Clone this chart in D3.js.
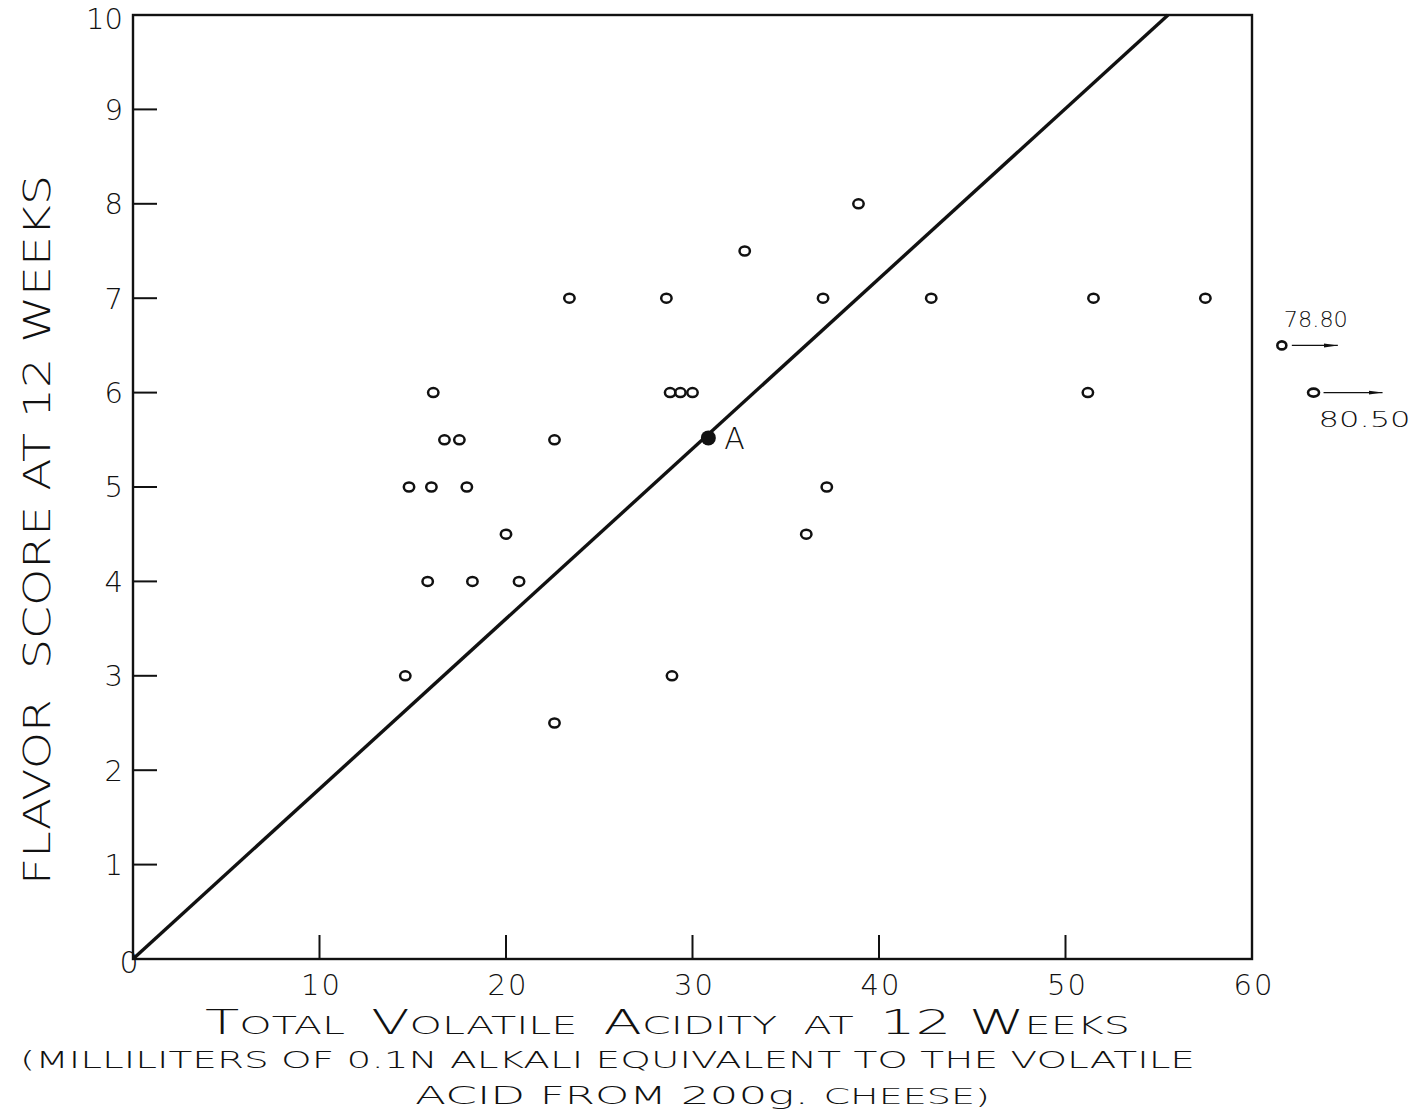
<!DOCTYPE html>
<html>
<head>
<meta charset="utf-8">
<script src="https://cdn.jsdelivr.net/npm/d3@7"></script>
<style>
  body { margin: 0; background: #fff; }
  svg { display: block; }
  text { font-family: "DejaVu Sans", "Liberation Sans", sans-serif; font-weight: 200; fill: #111; }
</style>
</head>
<body>
<svg id="chart" width="1415" height="1111"></svg>
<script>
// Data
const acidity = [14.8, 16.1, 16.7, 17.5, 16.0, 17.9, 15.8, 18.2, 14.6, 20.0, 20.7, 22.6, 22.6,
                 23.4, 28.6, 28.8, 29.35, 30.0, 28.9, 32.8, 37.0, 38.9, 37.2, 36.1, 42.8, 51.2, 51.5, 57.5];
const flavor = [5, 6, 5.5, 5.5, 5, 5, 4, 4, 3, 4.5, 4, 5.5, 2.5,
                7, 7, 6, 6, 6, 3, 7.5, 7, 8, 5, 4.5, 7, 6, 7, 7];

// points off the scale (real x value written next to them)
const offLabels = ["78.80", "80.50"];
const offPlotX = [61.6, 63.3];
const offFlavor = [6.5, 6];

// mean point "A"
const meanX = 30.85;
const meanY = 5.52;

// regression line end points
const lineX = [0, 55.5];
const lineY = [0, 10];

const xTicks = [10, 20, 30, 40, 50, 60];
const yTicks = [1, 2, 3, 4, 5, 6, 7, 8, 9, 10];

const svg = d3.select("#chart");

// scales
const x = d3.scaleLinear().domain([0, 60]).range([133, 1252]);
const y = d3.scaleLinear().domain([0, 10]).range([959, 15]);

// frame
svg.append("rect")
    .attr("x", x(0)).attr("y", y(10))
    .attr("width", x(60) - x(0)).attr("height", y(0) - y(10))
    .attr("fill", "none").attr("stroke", "#111").attr("stroke-width", 2.4);

// y ticks (inward)
svg.append("g").selectAll("line")
    .data(yTicks.slice(0, 9))
    .join("line")
    .attr("x1", x(0)).attr("x2", x(0) + 24)
    .attr("y1", d => y(d)).attr("y2", d => y(d))
    .attr("stroke", "#111").attr("stroke-width", 2);

svg.append("g").selectAll("text")
    .data(yTicks)
    .join("text")
    .attr("x", x(0) - 10)
    .attr("y", d => y(d) + (d === 10 ? 4 : 0))
    .attr("dy", "0.36em")
    .attr("text-anchor", "end")
    .attr("font-size", 29)
    .text(d => d);

// x ticks (upward)
svg.append("g").selectAll("line")
    .data(xTicks.slice(0, 5))
    .join("line")
    .attr("x1", d => x(d)).attr("x2", d => x(d))
    .attr("y1", y(0)).attr("y2", y(0) - 24)
    .attr("stroke", "#111").attr("stroke-width", 2);

svg.append("g").selectAll("text")
    .data(xTicks)
    .join("text")
    .attr("x", d => x(d) + 2)
    .attr("y", y(0) + 36)
    .attr("text-anchor", "middle")
    .attr("font-size", 29)
    .attr("letter-spacing", 2)
    .text(d => d);

// zero label at the corner
svg.append("text")
    .attr("x", x(0) - 4).attr("y", y(0) + 3)
    .attr("dy", "0.36em")
    .attr("text-anchor", "middle")
    .attr("font-size", 30)
    .text("0");

// regression line
svg.append("line")
    .attr("x1", x(lineX[0])).attr("y1", y(lineY[0]))
    .attr("x2", x(lineX[1])).attr("y2", y(lineY[1]))
    .attr("stroke", "#111").attr("stroke-width", 3.4);

// open circles
svg.append("g").selectAll("ellipse")
    .data(acidity.map((d, i) => [d, flavor[i]]))
    .join("ellipse")
    .attr("cx", d => x(d[0]))
    .attr("cy", d => y(d[1]))
    .attr("rx", 5.2).attr("ry", 4.5)
    .attr("fill", "none").attr("stroke", "#111").attr("stroke-width", 2.5);

// mean point A
svg.append("circle")
    .attr("cx", x(meanX)).attr("cy", y(meanY))
    .attr("r", 7.5).attr("fill", "#111");
svg.append("text")
    .attr("x", x(meanX) + 16).attr("y", y(meanY) + 11)
    .attr("font-size", 30)
    .text("A");

// off-scale points with arrows
const defs = svg.append("defs");
defs.append("marker")
    .attr("id", "arrow")
    .attr("viewBox", "0 0 14 6")
    .attr("refX", 14).attr("refY", 3)
    .attr("markerWidth", 14).attr("markerHeight", 6)
    .attr("markerUnits", "userSpaceOnUse")
    .attr("orient", "auto")
    .append("path").attr("d", "M0,1L14,3L0,5Z").attr("fill", "#111");

const off = svg.append("g");
off.selectAll("ellipse")
    .data(offPlotX.map((d, i) => [d, offFlavor[i]]))
    .join("ellipse")
    .attr("cx", d => x(d[0]))
    .attr("cy", d => y(d[1]))
    .attr("rx", (d, i) => i === 0 ? 4.5 : 5.5).attr("ry", 4)
    .attr("fill", "none").attr("stroke", "#111").attr("stroke-width", 2.6);

off.selectAll("line")
    .data(offPlotX.map((d, i) => [d, offFlavor[i]]))
    .join("line")
    .attr("x1", d => x(d[0]) + 10)
    .attr("x2", (d, i) => x(d[0]) + (i === 0 ? 56 : 69))
    .attr("y1", d => y(d[1]))
    .attr("y2", d => y(d[1]))
    .attr("stroke", "#111").attr("stroke-width", 1.4)
    .attr("marker-end", "url(#arrow)");

off.selectAll("text")
    .data(offLabels)
    .join("text")
    .attr("x", (d, i) => x(offPlotX[i]) + (i === 0 ? 2 : 5))
    .attr("y", (d, i) => y(offFlavor[i]) + (i === 0 ? -18 : 34))
    .attr("font-size", 22)
    .attr("textLength", (d, i) => i === 0 ? 64 : 92)
    .attr("lengthAdjust", "spacingAndGlyphs")
    .text(d => d);

// axis titles
const xt = svg.append("text")
    .attr("x", 205).attr("y", 1034)
    .attr("font-size", 26)
    .attr("textLength", 925)
    .attr("lengthAdjust", "spacingAndGlyphs");
[["T", 34], ["OTAL  ", 25], ["V", 34], ["OLATILE  ", 25], ["A", 34], ["CIDITY  AT  ", 25], ["12 W", 34], ["EEKS", 25]]
    .forEach(p => xt.append("tspan").attr("font-size", p[1]).attr("xml:space", "preserve").text(p[0]));

svg.append("text")
    .attr("x", 20).attr("y", 1068)
    .attr("font-size", 23)
    .attr("textLength", 1175)
    .attr("lengthAdjust", "spacingAndGlyphs")
    .text("(MILLILITERS OF 0.1N ALKALI EQUIVALENT TO THE VOLATILE");

const l3 = svg.append("text")
    .attr("x", 415).attr("y", 1104)
    .attr("font-size", 24)
    .attr("textLength", 575)
    .attr("lengthAdjust", "spacingAndGlyphs");
[["ACID ", 25], ["FROM ", 24], ["200g. ", 25], ["CHEESE)", 21]]
    .forEach(p => l3.append("tspan").attr("font-size", p[1]).text(p[0]));

svg.append("text")
    .attr("transform", "translate(50,885) rotate(-90)")
    .attr("font-size", 38)
    .attr("textLength", 710)
    .attr("lengthAdjust", "spacingAndGlyphs")
    .attr("xml:space", "preserve")
    .text("FLAVOR  SCORE AT 12 WEEKS");
</script>
</body>
</html>
